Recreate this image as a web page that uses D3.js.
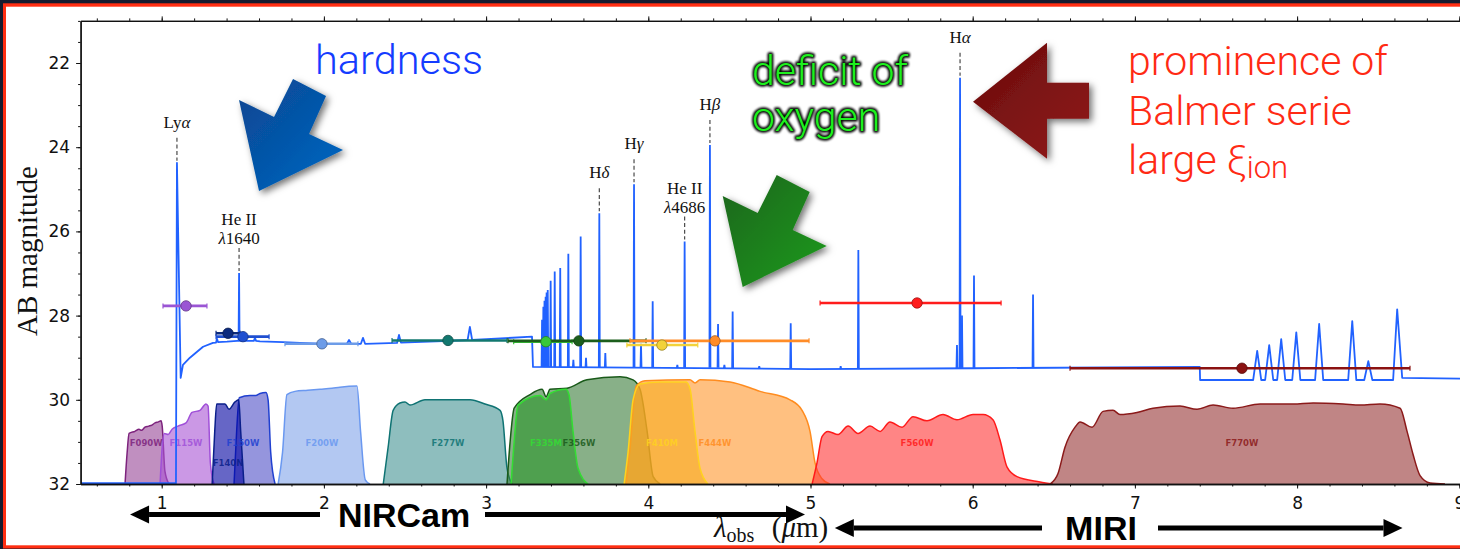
<!DOCTYPE html>
<html>
<head>
<meta charset="utf-8">
<script src="https://cdn.jsdelivr.net/npm/d3@7"></script>
<style>
  html, body { margin: 0; padding: 0; overflow: hidden; background: #fff; }
  svg { display: block; }
</style>
</head>
<body>
<svg id="chart" width="1460" height="549"></svg>
<script>
// ---- data ----

// model spectrum continuum, [wavelength (um), AB mag]
const continuum = [
  [0.50, 31.98], [1.088, 31.98], [1.094, 24.37], [1.117, 29.48], [1.131, 29.17],
  [1.174, 29.0], [1.218, 28.86], [1.255, 28.74], [1.316, 28.65], [1.335, 28.64],
  [1.341, 28.55], [1.347, 28.63], [1.403, 28.62], [1.465, 28.6], [1.544, 28.6],
  [1.568, 28.6], [1.575, 28.53], [1.582, 28.6], [1.606, 28.61], [1.748, 28.63],
  [1.853, 28.65], [1.994, 28.67], [2.142, 28.67], [2.155, 28.58], [2.168, 28.67],
  [2.228, 28.67], [2.241, 28.53], [2.254, 28.67], [2.451, 28.65], [2.463, 28.46],
  [2.475, 28.64], [2.778, 28.6], [2.886, 28.58], [2.900, 28.27], [2.914, 28.58],
  [3.283, 28.5], [3.289, 29.22], [5.00, 29.27], [6.00, 29.25], [7.400, 29.22],
  [7.402, 29.53],
  [7.729, 29.53], [7.754, 28.84], [7.779, 29.53],
  [7.803, 29.53], [7.828, 28.70], [7.853, 29.53],
  [7.877, 29.53], [7.902, 28.56], [7.927, 29.53],
  [7.970, 29.53], [7.995, 28.40], [8.020, 29.53],
  [8.111, 29.53], [8.136, 28.20], [8.161, 29.53],
  [8.315, 29.53], [8.340, 28.13], [8.365, 29.53],
  [8.414, 29.53], [8.439, 29.08], [8.464, 29.53],
  [8.592, 29.53], [8.617, 27.85], [8.648, 29.48],
  [9.10, 29.5]
];

// narrow emission lines, [wavelength, peak mag, continuum mag under it]
const emissionLines = [
  [1.477, 26.99, 28.6],
  [3.345, 28.1, 29.22], [3.353, 27.79, 29.22], [3.360, 27.65, 29.22], [3.367, 27.55, 29.22],
  [3.373, 27.45, 29.22], [3.380, 27.39, 29.22], [3.398, 27.17, 29.22], [3.423, 26.95, 29.22],
  [3.457, 26.87, 29.22], [3.507, 26.53, 29.23], [3.538, 29.05, 29.23], [3.583, 26.12, 29.23],
  [3.616, 29.0, 29.23], [3.698, 25.57, 29.23], [3.735, 28.89, 29.23], [3.912, 24.88, 29.23],
  [3.955, 28.67, 29.23], [4.027, 27.66, 29.24], [4.179, 29.17, 29.24], [4.224, 26.24, 29.24],
  [4.380, 23.95, 29.24], [4.430, 28.2, 29.24], [4.469, 29.17, 29.25], [4.520, 27.9, 29.25],
  [4.684, 29.2, 29.26], [4.878, 28.18, 29.27], [5.186, 29.2, 29.27], [5.295, 26.44, 29.27],
  [5.903, 28.7, 29.25], [5.922, 22.35, 29.25], [5.934, 28.0, 29.25], [6.008, 27.05, 29.25],
  [6.372, 27.5, 29.24]
];

// labelled lines
const lineNames = [['Ly', 'α'], ['He II', 'λ1640'], ['H', 'δ'], ['H', 'γ'], ['He II', 'λ4686'], ['H', 'β'], ['H', 'α']];
const lineWave = [1.094, 1.477, 3.698, 3.912, 4.224, 4.380, 5.922];
const linePeak = [24.37, 26.99, 25.57, 24.88, 26.24, 23.95, 22.35];

// photometry
const photFilters = ['F115W', 'F140N', 'F150W', 'F200W', 'F277W', 'F335M', 'F356W', 'F410M', 'F444W', 'F560W', 'F770W'];
const photWave = [1.150, 1.409, 1.501, 1.988, 2.765, 3.369, 3.572, 4.084, 4.411, 5.657, 7.660];
const photMag  = [27.77, 28.42, 28.50, 28.67, 28.59, 28.62, 28.60, 28.70, 28.60, 27.70, 29.25];
const photLo   = [1.008, 1.335, 1.335, 1.760, 2.420, 3.170, 3.135, 3.868, 3.887, 5.059, 6.600];
const photHi   = [1.279, 1.483, 1.662, 2.210, 3.129, 3.530, 3.986, 4.305, 4.991, 6.175, 8.696];

// filter transmission curves, [wavelength, relative throughput]
const curveF090W = [[0.774, 0], [0.787, 0.3], [0.799, 0.48], [0.835, 0.5], [0.86, 0.52], [0.875, 0.51],
  [0.897, 0.54], [0.92, 0.55], [0.94, 0.56], [0.959, 0.58], [0.98, 0.59], [0.996, 0.6], [1.003, 0.55], [1.02, 0.12], [1.045, 0]];
const curveF115W = [[0.99, 0], [1.003, 0.35], [1.016, 0.48], [1.04, 0.47], [1.064, 0.52], [1.101, 0.55],
  [1.15, 0.58], [1.187, 0.68], [1.236, 0.7], [1.273, 0.76], [1.286, 0.74], [1.300, 0.2], [1.322, 0]];
const curveF150W = [[1.446, 0], [1.462, 0.5], [1.478, 0.82], [1.544, 0.84], [1.58, 0.84], [1.606, 0.86],
  [1.643, 0.87], [1.656, 0.8], [1.672, 0.3], [1.699, 0]];
const curveF140N = [[1.311, 0], [1.327, 0.5], [1.339, 0.76], [1.39, 0.76], [1.415, 0.71], [1.452, 0.78],
  [1.475, 0.8], [1.487, 0.5], [1.507, 0]];
const curveF200W = [[1.718, 0], [1.745, 0.3], [1.772, 0.85], [1.822, 0.88], [1.9, 0.89], [1.976, 0.9],
  [2.05, 0.91], [2.099, 0.92], [2.204, 0.93], [2.226, 0.5], [2.255, 0.04], [2.284, 0]];
const curveF277W = [[2.366, 0], [2.396, 0.35], [2.427, 0.7], [2.469, 0.77], [2.5, 0.78], [2.531, 0.75],
  [2.623, 0.8], [2.901, 0.8], [2.993, 0.76], [3.086, 0.7], [3.104, 0.6], [3.129, 0.15], [3.160, 0]];
const curveF356W = [[3.129, 0], [3.148, 0.4], [3.173, 0.72], [3.271, 0.85], [3.345, 0.9], [3.370, 0.83],
  [3.394, 0.9], [3.499, 0.91], [3.622, 0.99], [3.826, 1.02], [3.906, 0.99], [3.949, 0.9], [3.992, 0.51],
  [4.030, 0.07], [4.073, 0]];
const curveF335M = [[3.154, 0], [3.173, 0.4], [3.197, 0.75], [3.333, 0.84], [3.370, 0.8], [3.394, 0.86],
  [3.493, 0.9], [3.511, 0.85], [3.536, 0.5], [3.567, 0.15], [3.629, 0]];
const curveF444W = [[3.863, 0], [3.888, 0.35], [3.925, 0.93], [3.98, 0.98], [4.257, 0.99], [4.288, 0.96],
  [4.319, 0.99], [4.504, 0.97], [4.689, 0.88], [4.874, 0.8], [4.948, 0.7], [4.997, 0.5], [5.028, 0.2],
  [5.071, 0.05], [5.12, 0]];
const curveF410M = [[3.851, 0], [3.875, 0.3], [3.906, 0.8], [3.949, 0.95], [4.072, 0.97], [4.233, 0.97],
  [4.258, 0.9], [4.288, 0.5], [4.319, 0.15], [4.368, 0]];
const curveF560W = [[5.010, 0], [5.040, 0.2], [5.071, 0.45], [5.108, 0.5], [5.170, 0.47], [5.232, 0.55],
  [5.293, 0.48], [5.367, 0.55], [5.429, 0.5], [5.490, 0.59], [5.564, 0.54], [5.632, 0.64], [5.718, 0.6],
  [5.817, 0.66], [5.903, 0.61], [6.002, 0.66], [6.064, 0.66], [6.125, 0.61], [6.168, 0.42], [6.212, 0.16],
  [6.273, 0.07], [6.415, 0.02], [6.495, 0]];
const curveF770W = [[6.477, 0], [6.526, 0.1], [6.569, 0.35], [6.631, 0.54], [6.662, 0.59], [6.736, 0.54],
  [6.804, 0.69], [6.865, 0.7], [6.908, 0.66], [7.013, 0.68], [7.112, 0.72], [7.278, 0.74], [7.383, 0.71],
  [7.482, 0.75], [7.605, 0.72], [7.772, 0.76], [7.975, 0.76], [8.099, 0.77], [8.284, 0.76], [8.388, 0.75],
  [8.511, 0.76], [8.635, 0.72], [8.678, 0.5], [8.715, 0.28], [8.758, 0.08], [8.820, 0.01], [8.912, 0]];

// draw order and label positions of the filters
const filterNames = ['F090W', 'F115W', 'F150W', 'F140N', 'F200W', 'F277W', 'F356W', 'F335M', 'F444W', 'F410M', 'F560W', 'F770W'];
const filterCurves = [curveF090W, curveF115W, curveF150W, curveF140N, curveF200W, curveF277W, curveF356W, curveF335M, curveF444W, curveF410M, curveF560W, curveF770W];
const filterLabelWave = [0.904, 1.150, 1.501, 1.409, 1.988, 2.765, 3.572, 3.369, 4.411, 4.084, 5.657, 7.660];

const xMajor = [1, 2, 3, 4, 5, 6, 7, 8, 9];
const yMajor = [22, 24, 26, 28, 30, 32];

// ---- styles ----
const filterFill = {
  F090W: '#964496', F115W: '#a853d4', F150W: '#4e4ec6', F140N: '#0000a0', F200W: '#80a3e9', F277W: '#439393',
  F356W: '#397b39', F335M: '#2a962a', F444W: '#ff962b', F410M: '#f7ac20', F560W: '#ff3434', F770W: '#963434'
};
const filterEdge = {
  F090W: '#7d237d', F115W: '#a050d8', F150W: '#2040d0', F140N: '#0a1f8a', F200W: '#6a98f0', F277W: '#0f7373',
  F356W: '#1a5a1a', F335M: '#33dd33', F444W: '#ff8c1f', F410M: '#ffd21f', F560W: '#ff1a1a', F770W: '#8b1a1a'
};
const photColor = {
  F115W: '#9a55d4', F140N: '#0b2a7e', F150W: '#1f4fd0', F200W: '#6d9ce8', F277W: '#12786f', F335M: '#38c838',
  F356W: '#1c5e1c', F410M: '#f2d23a', F444W: '#ff8c28', F560W: '#ff1c1c', F770W: '#8b1212'
};
const specColor = '#2162ff';
const serif = '"Liberation Serif", "DejaVu Serif", serif';
const sans = '"DejaVu Sans", sans-serif';

const W = 1460, H = 549;
const svg = d3.select('#chart');

// scales: 162.2 px per micron, 42.1 px per magnitude
const x = d3.scaleLinear().domain([0.5, 9.1]).range([80.6, 80.6 + 8.6 * 162.2]);
const y = d3.scaleLinear().domain([21, 32]).range([20.9, 484]);
const tr = d3.scaleLinear().domain([0, 1]).range([y(32), y(29.5)]);

// frame: dark sky strip, red border, white page (open on the right)
svg.append('rect').attr('width', W).attr('height', H).attr('fill', '#161b2e');
svg.append('rect').attr('x', 3).attr('y', 3.3).attr('width', W + 40).attr('height', 545.2).attr('fill', '#ff2e12');
svg.append('rect').attr('x', 6).attr('y', 6.7).attr('width', W + 40).attr('height', 538.6).attr('fill', '#fff');

const defs = svg.append('defs');
defs.append('clipPath').attr('id', 'plotclip')
  .append('rect').attr('x', x(0.5)).attr('y', y(21)).attr('width', x(9.1) - x(0.5)).attr('height', y(32) - y(21));

const shadow = defs.append('filter').attr('id', 'shadow').attr('x', '-30%').attr('y', '-30%').attr('width', '160%').attr('height', '160%');
shadow.append('feDropShadow').attr('dx', 3).attr('dy', 3).attr('stdDeviation', 3.5)
  .attr('flood-color', '#000').attr('flood-opacity', 0.55);

const glow = defs.append('filter').attr('id', 'glow').attr('x', '-10%').attr('y', '-30%').attr('width', '120%').attr('height', '160%');
glow.append('feGaussianBlur').attr('stdDeviation', 1.1);

function gradient(id, c0, c1) {
  const g = defs.append('linearGradient').attr('id', id).attr('x1', '0%').attr('y1', '0%').attr('x2', '100%').attr('y2', '100%');
  g.append('stop').attr('offset', '0%').attr('stop-color', c0);
  g.append('stop').attr('offset', '100%').attr('stop-color', c1);
}
gradient('gblue', '#0a4590', '#0068c4');
gradient('ggreen', '#1d651d', '#1f9b1f');
gradient('gred', '#6a0c0c', '#901b1b');

const plot = svg.append('g').attr('clip-path', 'url(#plotclip)');

// ---- filter curves ----
const area = d3.area().x(d => x(d[0])).y0(tr(0)).y1(d => tr(d[1])).curve(d3.curveMonotoneX);
const edge = d3.line().x(d => x(d[0])).y(d => tr(d[1])).curve(d3.curveMonotoneX);

filterNames.forEach((name, i) => {
  plot.append('path').datum(filterCurves[i]).attr('d', area)
    .attr('fill', filterFill[name]).attr('fill-opacity', 0.6);
  plot.append('path').datum(filterCurves[i]).attr('d', edge)
    .attr('fill', 'none').attr('stroke', filterEdge[name]).attr('stroke-width', 1.5);
});

filterNames.forEach((name, i) => {
  plot.append('text')
    .attr('x', x(filterLabelWave[i]))
    .attr('y', name === 'F140N' ? y(31.58) : y(31.1))
    .attr('text-anchor', 'middle')
    .attr('font-family', sans).attr('font-weight', 'bold').attr('font-size', 8.5)
    .attr('fill', filterEdge[name]).attr('fill-opacity', 0.85)
    .text(name);
});

// ---- spectrum ----
const specLine = d3.line().x(d => x(d[0])).y(d => y(d[1]));
plot.append('path').datum(continuum).attr('d', specLine)
  .attr('fill', 'none').attr('stroke', specColor).attr('stroke-width', 1.8).attr('stroke-linejoin', 'round');

plot.selectAll('.eline').data(emissionLines).enter().append('path')
  .attr('class', 'eline')
  .attr('d', d => specLine([[d[0] - 0.003, d[2]], [d[0], d[1]], [d[0] + 0.003, d[2]]]))
  .attr('fill', 'none').attr('stroke', specColor).attr('stroke-width', 1.8);

// ---- photometry ----
photFilters.forEach((name, i) => {
  const c = photColor[name];
  const g = plot.append('g');
  g.append('line').attr('x1', x(photLo[i])).attr('x2', x(photHi[i]))
    .attr('y1', y(photMag[i])).attr('y2', y(photMag[i]))
    .attr('stroke', c).attr('stroke-width', 2.6);
  [photLo[i], photHi[i]].forEach(v => {
    g.append('line').attr('x1', x(v)).attr('x2', x(v))
      .attr('y1', y(photMag[i]) - 2.5).attr('y2', y(photMag[i]) + 2.5)
      .attr('stroke', c).attr('stroke-width', 1.2);
  });
});
photFilters.forEach((name, i) => {
  plot.append('circle').attr('cx', x(photWave[i])).attr('cy', y(photMag[i])).attr('r', 5.2)
    .attr('fill', photColor[name]).attr('stroke', d3.color(photColor[name]).darker(1.3)).attr('stroke-width', 0.8);
});

// ---- line identifications ----
lineNames.forEach((parts, i) => {
  const px = x(lineWave[i]);
  const top = y(linePeak[i]) - 25;
  svg.append('line').attr('x1', px).attr('x2', px).attr('y1', top).attr('y2', y(linePeak[i]) - 2)
    .attr('stroke', '#4a4a4a').attr('stroke-width', 1.2).attr('stroke-dasharray', '4,2.6');
  const t = svg.append('text').attr('text-anchor', 'middle').attr('font-family', serif)
    .attr('font-size', 17).attr('fill', '#111');
  if (parts[1].startsWith('λ')) {
    t.append('tspan').attr('x', px).attr('y', top - 23).text(parts[0]);
    const t2 = t.append('tspan').attr('x', px).attr('y', top - 4);
    t2.append('tspan').attr('font-style', 'italic').text('λ');
    t2.append('tspan').text(parts[1].slice(1));
  } else {
    t.attr('x', px).attr('y', top - 10);
    t.append('tspan').text(parts[0]);
    t.append('tspan').attr('font-style', 'italic').text(parts[1]);
  }
});

// ---- axes ----
const tickFont = g => g.selectAll('text').attr('font-family', sans).attr('font-size', 17).attr('fill', '#111');
const styleAxis = g => {
  g.select('.domain').attr('stroke', '#111').attr('stroke-width', 1.3);
  g.selectAll('.tick line').attr('stroke', '#111').attr('stroke-width', 1);
};
const xMinor = d3.range(6, 91, 2).map(v => v / 10);
const yMinor = d3.range(42, 65, 1).map(v => v / 2);

svg.append('g').attr('transform', `translate(0,${y(32)})`)
  .call(d3.axisBottom(x).tickValues(xMinor).tickSize(2.5).tickFormat('').tickSizeOuter(0)).call(styleAxis);
svg.append('g').attr('transform', `translate(0,${y(32)})`)
  .call(d3.axisBottom(x).tickValues(xMajor).tickSize(4.5).tickPadding(8).tickFormat(d3.format('d')).tickSizeOuter(0))
  .call(styleAxis).call(tickFont);
svg.append('g').attr('transform', `translate(0,${y(21)})`)
  .call(d3.axisTop(x).tickValues(xMinor).tickSize(2.5).tickFormat('').tickSizeOuter(0)).call(styleAxis);
svg.append('g').attr('transform', `translate(0,${y(21)})`)
  .call(d3.axisTop(x).tickValues(xMajor).tickSize(4.5).tickFormat('').tickSizeOuter(0)).call(styleAxis);
svg.append('g').attr('transform', `translate(${x(0.5)},0)`)
  .call(d3.axisLeft(y).tickValues(yMinor).tickSize(2.5).tickFormat('').tickSizeOuter(0)).call(styleAxis);
svg.append('g').attr('transform', `translate(${x(0.5)},0)`)
  .call(d3.axisLeft(y).tickValues(yMajor).tickSize(4.5).tickPadding(6).tickFormat(d3.format('d')).tickSizeOuter(0))
  .call(styleAxis).call(tickFont);

// axis titles
svg.append('text').attr('transform', 'translate(37,251) rotate(-90)')
  .attr('text-anchor', 'middle').attr('font-family', serif).attr('font-size', 29).attr('fill', '#111')
  .text('AB magnitude');

const xl = svg.append('text').attr('x', 714).attr('y', 537).attr('font-family', serif).attr('font-size', 29).attr('fill', '#111');
xl.append('tspan').attr('font-style', 'italic').text('λ');
xl.append('tspan').attr('font-size', 20).attr('dy', 5).text('obs');
xl.append('tspan').attr('dy', -5).text('\u2009\u2009\u2009(');
xl.append('tspan').attr('font-style', 'italic').text('μ');
xl.append('tspan').text('m)');

// ---- instrument ranges along the bottom ----
const nircamRange = [0.805, 4.966];
const miriRange = [5.15, 8.65];

function hArrow(x0, x1, yy) {
  // shaft from x0 to the head whose tip is at x1
  const dir = Math.sign(x1 - x0);
  const back = x1 - dir * 19;
  svg.append('line').attr('x1', x0).attr('x2', back).attr('y1', yy).attr('y2', yy)
    .attr('stroke', '#000').attr('stroke-width', 5);
  svg.append('path').attr('d', `M${x1},${yy}L${back},${yy - 9}L${back},${yy + 9}Z`).attr('fill', '#000');
}
hArrow(320, x(nircamRange[0]), 514.5);
hArrow(485, x(nircamRange[1]), 514.5);
hArrow(1042, x(miriRange[0]), 528);
hArrow(1158, x(miriRange[1]), 528);

const bold = '"Liberation Sans", Arial, sans-serif';
svg.append('text').attr('x', 404).attr('y', 527).attr('text-anchor', 'middle').attr('font-family', bold)
  .attr('font-weight', 'bold').attr('font-size', 34).attr('fill', '#000').text('NIRCam');
svg.append('text').attr('x', 1101).attr('y', 540).attr('text-anchor', 'middle').attr('font-family', bold)
  .attr('font-weight', 'bold').attr('font-size', 34).attr('fill', '#000').text('MIRI');

// ---- interpretation arrows and notes ----
const slantArrow = [[0, 0], [-20, -91], [15, -74], [34, -112], [67, -95], [50, -57], [84, -41]];
const leftArrow = [[0, 0], [74, -59], [74, -19], [116, -19], [116, 17], [74, 17], [74, 57]];

function blockArrow(shape, tipWave, tipMag, fill) {
  const tx = x(tipWave), ty = y(tipMag);
  svg.append('path').attr('d', 'M' + shape.map(p => `${tx + p[0]},${ty + p[1]}`).join('L') + 'Z')
    .attr('fill', fill).attr('filter', 'url(#shadow)');
}
blockArrow(slantArrow, 1.600, 25.04, 'url(#gblue)');
blockArrow(slantArrow, 4.582, 27.32, 'url(#ggreen)');
blockArrow(leftArrow, 6.002, 22.92, 'url(#gred)');

const note = '"Roboto", "Liberation Sans", sans-serif';
svg.append('text').attr('x', 315).attr('y', 74).attr('font-family', note).attr('font-weight', 300)
  .attr('font-size', 41.5).attr('fill', '#143cff').text('hardness');

['deficit of', 'oxygen'].forEach((s, i) => {
  svg.append('text').attr('x', 752).attr('y', 85 + i * 46).attr('font-family', note).attr('font-weight', 300)
    .attr('font-size', 41).attr('fill', 'none').attr('stroke', '#000').attr('stroke-width', 3.6)
    .attr('stroke-linejoin', 'round').attr('filter', 'url(#glow)').text(s);
  svg.append('text').attr('x', 752).attr('y', 85 + i * 46).attr('font-family', note).attr('font-weight', 300)
    .attr('font-size', 41).attr('fill', '#1ef01e').text(s);
});

['prominence of', 'Balmer serie'].forEach((s, i) => {
  svg.append('text').attr('x', 1128).attr('y', 75 + i * 50).attr('font-family', note).attr('font-weight', 300)
    .attr('font-size', 41).attr('fill', '#ff2a14').text(s);
});
const lg = svg.append('text').attr('x', 1128).attr('y', 174).attr('font-family', note).attr('font-weight', 300)
  .attr('font-size', 41).attr('fill', '#ff2a14');
lg.append('tspan').text('large ξ');
lg.append('tspan').attr('font-size', 31).attr('dy', 4).text('ion');
</script>
</body>
</html>
